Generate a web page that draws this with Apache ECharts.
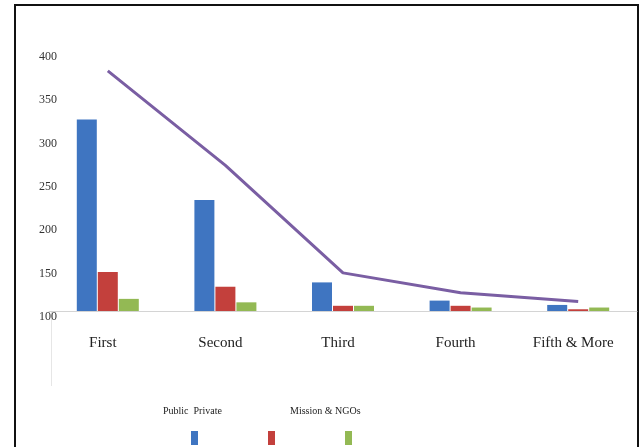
<!DOCTYPE html>
<html>
<head>
<meta charset="utf-8">
<script src="https://cdn.jsdelivr.net/npm/echarts@6/dist/echarts.min.js"></script>
<style>
  html, body { margin: 0; padding: 0; background: #fff; }
  #chart { width: 641px; height: 447px; }
</style>
</head>
<body>
<div id="chart"></div>
<script>
// Data
const categories = ["First", "Second", "Third", "Fourth", "Fifth & More"];
const publicValues = [321, 228, 133, 112, 107];
const privateValues = [145, 128, 106, 106, 102];
const missionValues = [114, 110, 106, 104, 104];
const totalValues = [377, 268, 144, 121, 111];
const yTicks = { min: 100, max: 400, interval: 50 };

const font = "Liberation Serif";

const chart = echarts.init(document.getElementById("chart"));

const barSeries = (name, data, color) => ({
  name: name,
  type: "bar",
  data: data,
  barWidth: 20,
  barGap: "5%",
  itemStyle: { color: color },
  silent: true,
});

const option = {
  animation: false,
  backgroundColor: "#fff",
  grid: {
    left: 49,
    right: 4,
    top: 51,
    bottom: 136,
  },
  legend: {
    data: ["Public", "Private", "Mission & NGOs"],
    left: 186,
    top: 426,
    itemWidth: 7,
    itemHeight: 14,
    itemGap: 70,
    icon: "rect",
    formatter: () => "",
    textStyle: { fontSize: 1 },
    selectedMode: false,
  },
  xAxis: {
    type: "category",
    data: categories,
    axisLine: { lineStyle: { color: "#d4d4d4", width: 1 } },
    axisTick: { show: false },
    axisLabel: {
      fontFamily: font,
      fontSize: 15,
      color: "#222",
      margin: 25,
      padding: [0, 10, 0, 0],
    },
  },
  yAxis: {
    type: "value",
    min: yTicks.min,
    max: yTicks.max,
    interval: yTicks.interval,
    axisLine: { show: false },
    axisTick: { show: false },
    splitLine: { show: false },
    axisLabel: {
      fontFamily: font,
      fontSize: 12,
      color: "#333",
      margin: -8,
      verticalAlign: "top",
    },
  },
  series: [
    barSeries("Public", publicValues, "#3f75c1"),
    barSeries("Private", privateValues, "#c3403c"),
    barSeries("Mission & NGOs", missionValues, "#93b954"),
    {
      name: "Total",
      type: "line",
      data: totalValues,
      symbol: "none",
      lineStyle: { color: "#7a5ea3", width: 3 },
      silent: true,
    },
  ],
  graphic: [
    {
      type: "rect",
      shape: { x: 15, y: 5, width: 623, height: 460 },
      style: { fill: "none", stroke: "#111", lineWidth: 2 },
      silent: true,
    },
    {
      type: "line",
      shape: { x1: 51.5, y1: 312, x2: 51.5, y2: 386 },
      style: { stroke: "#e6e6e6", lineWidth: 1 },
      silent: true,
    },
    {
      type: "text",
      left: 163,
      top: 406,
      style: { text: "Public  Private", font: "10px " + font, fill: "#222" },
    },
    {
      type: "text",
      left: 290,
      top: 406,
      style: { text: "Mission & NGOs", font: "10px " + font, fill: "#222" },
    },
  ],
};

chart.setOption(option);
</script>
</body>
</html>
